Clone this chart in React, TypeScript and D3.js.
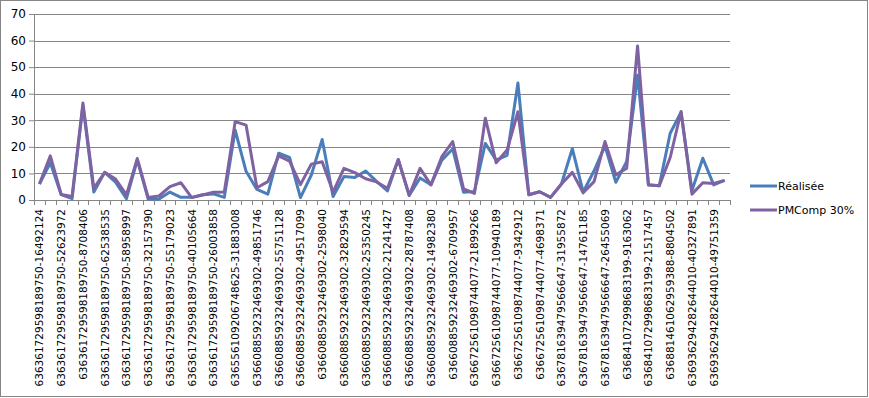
import { useEffect, useRef } from 'react'
import * as d3 from 'd3'

const categories = [
  '636361729598189750-16492124', '636361729598189750-41220387',
  '636361729598189750-52623972', '636361729598189750-60417755',
  '636361729598189750-8708406', '636361729598189750-33891201',
  '636361729598189750-62538535', '636361729598189750-19876432',
  '636361729598189750-58958997', '636361729598189750-47301128',
  '636361729598189750-32157390', '636361729598189750-12854390',
  '636361729598189750-55179023', '636361729598189750-27648815',
  '636361729598189750-40105664', '636361729598189750-9312457',
  '636361729598189750-26003858', '636556109206748625-15720364',
  '636556109206748625-31883008', '636608859232469302-36012479',
  '636608859232469302-49851746', '636608859232469302-18503662',
  '636608859232469302-55751128', '636608859232469302-43128905',
  '636608859232469302-49517099', '636608859232469302-11347852',
  '636608859232469302-2598040', '636608859232469302-38814520',
  '636608859232469302-32829594', '636608859232469302-7765311',
  '636608859232469302-25350245', '636608859232469302-52190846',
  '636608859232469302-21241427', '636608859232469302-16624098',
  '636608859232469302-28787408', '636608859232469302-44903317',
  '636608859232469302-14982380', '636608859232469302-30471926',
  '636608859232469302-6709957', '636672561098744077-12583640',
  '636672561098744077-21899266', '636672561098744077-35602714',
  '636672561098744077-10940189', '636672561098744077-27731058',
  '636672561098744077-9342912', '636672561098744077-18266473',
  '636672561098744077-4698371', '636781639479566647-22049186',
  '636781639479566647-31955872', '636781639479566647-8410523',
  '636781639479566647-14761185', '636781639479566647-39128847',
  '636781639479566647-26455069', '636841072998683199-17302685',
  '636841072998683199-9163062', '636841072998683199-30845219',
  '636841072998683199-21517457', '636881461062959388-13670924',
  '636881461062959388-8804502', '636936294282644010-25418763',
  '636936294282644010-40327891', '636936294282644010-11936504',
  '636936294282644010-49751359', '636936294282644010-33482170',
]

const realisee = [
  6, 14, 2, 0.5, 35.5, 3, 10.4, 6.7, 0.5, 15,
  0.3, 0.4, 3, 1, 1, 2, 2.3, 1, 26.3, 10.8,
  4, 2.2, 17.6, 16, 0.9, 9.4, 22.8, 1.3, 8.8, 8.5,
  10.9, 7, 3.4, 15.2, 1.7, 8.3, 5.7, 15, 19.2, 2.9,
  3.2, 21.3, 15, 16.8, 44, 2, 3.1, 1, 6, 19.3,
  3, 11, 20.4, 6.7, 14.5, 47, 5.7, 5.4, 25.1, 33,
  3.6, 15.7, 5.7, 7.4,
]

const pmComp = [
  6, 16.6, 2.1, 1.3, 36.5, 4.4, 10.4, 7.9, 1.9, 15.6,
  0.9, 1.5, 5, 6.5, 0.9, 1.9, 2.9, 3, 29.5, 28.2,
  4.6, 6.9, 16.6, 14.6, 5.8, 13.5, 14.4, 3, 11.9, 10.3,
  8, 6.8, 4.4, 15.2, 1.8, 11.9, 5.7, 16.3, 22, 4.2,
  2.5, 30.8, 14, 18.8, 33.2, 2, 3.1, 1, 6, 10.4,
  2.7, 6.9, 22, 9.4, 12, 58, 5.6, 5.4, 16, 33.3,
  2.2, 6.5, 6.2, 7.4,
]

const yTicks = [0, 10, 20, 30, 40, 50, 60, 70]

const series = [
  { name: 'Réalisée', values: realisee, color: '#4a7ebb' },
  { name: 'PMComp 30%', values: pmComp, color: '#7f62a1' },
]

const App = () => {
  const svgRef = useRef(null)
  const width = 869
  const height = 398

  useEffect(() => {
    if (!svgRef.current) return
    const svg = d3.select(svgRef.current)
    svg.selectAll('*').remove()

    const left = 34, right = 730, top = 14, bottom = 200
    const grey = '#868686'

    const x = d3.scaleBand().domain(categories).range([left, right])
    const y = d3.scaleLinear().domain([0, 70]).range([bottom, top])

    // outer frame
    svg.append('rect')
      .attr('x', 0.5).attr('y', 0.5)
      .attr('width', width - 2).attr('height', height - 2)
      .attr('fill', 'white')
      .attr('stroke', grey)

    // gridlines + y ticks
    const yAxis = d3.axisLeft(y).tickValues(yTicks).tickSize(5).tickPadding(3)
    const gy = svg.append('g').attr('transform', `translate(${left},0)`).call(yAxis)
    gy.select('.domain').attr('stroke', grey)
    gy.selectAll('.tick line').attr('stroke', grey)
    gy.selectAll('.tick text')
      .attr('font-family', 'DejaVu Sans')
      .attr('font-size', 12)
      .attr('fill', '#000')

    svg.append('g').selectAll('line')
      .data(yTicks.filter(d => d > 0)).enter().append('line')
      .attr('x1', left).attr('x2', right)
      .attr('y1', d => Math.round(y(d)) + 0.5).attr('y2', d => Math.round(y(d)) + 0.5)
      .attr('stroke', grey)

    // x axis: ticks on category boundaries, labels on every other category
    const gx = svg.append('g').attr('transform', `translate(0,${bottom})`)
    gx.append('line')
      .attr('x1', left).attr('x2', right)
      .attr('y1', 0.5).attr('y2', 0.5)
      .attr('stroke', grey)
    gx.selectAll('.tk')
      .data(d3.range(categories.length + 1)).enter().append('line')
      .attr('class', 'tk')
      .attr('x1', i => Math.round(left + i * x.step()) + 0.5)
      .attr('x2', i => Math.round(left + i * x.step()) + 0.5)
      .attr('y1', 0).attr('y2', 5)
      .attr('stroke', grey)
    gx.selectAll('text')
      .data(categories.filter((d, i) => i % 2 === 0)).enter().append('text')
      .attr('transform', d => `translate(${x(d) + x.bandwidth() / 2 + 4},9) rotate(-90)`)
      .attr('text-anchor', 'end')
      .attr('font-family', 'DejaVu Sans')
      .attr('font-size', 10.5)
      .attr('fill', '#000')
      .text(d => d)

    const line = d3.line()
      .x((d, i) => x(categories[i]) + x.bandwidth() / 2)
      .y(d => y(d))

    series.forEach(s => {
      svg.append('path')
        .datum(s.values)
        .attr('d', line)
        .attr('fill', 'none')
        .attr('stroke', s.color)
        .attr('stroke-width', 3)
        .attr('stroke-linejoin', 'round')
    })

    // legend
    const lg = svg.append('g').selectAll('g')
      .data(series).enter().append('g')
      .attr('transform', (d, i) => `translate(750,${186 + i * 24})`)
    lg.append('line')
      .attr('x1', 0).attr('x2', 27)
      .attr('stroke', d => d.color)
      .attr('stroke-width', 3)
    lg.append('text')
      .attr('x', 28).attr('dy', '0.36em')
      .attr('font-family', 'DejaVu Sans')
      .attr('font-size', 11)
      .attr('fill', '#000')
      .text(d => d.name)
  }, [])

  return (
    <svg
      ref={svgRef}
      width={width}
      height={height}
      style={{ position: 'absolute', left: 0, top: 0 }}
    />
  )
}

export default App
